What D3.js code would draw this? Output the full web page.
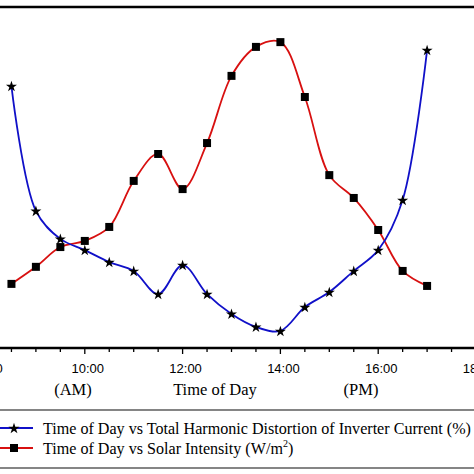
<!DOCTYPE html>
<html><head><meta charset="utf-8">
<script src="https://cdn.jsdelivr.net/npm/d3@7"></script>
<style>body{margin:0;background:#fff}svg{display:block}</style>
</head><body>
<script>
// Time of day in hours (every 30 minutes, 8:30 to 17:00)
const times = [8.5,9,9.5,10,10.5,11,11.5,12,12.5,13,13.5,14,14.5,15,15.5,16,16.5,17];
// Total harmonic distortion of inverter current (%)
const thd = [7.68,4.02,3.20,2.87,2.52,2.26,1.58,2.43,1.58,1.00,0.62,0.50,1.20,1.64,2.26,2.87,4.34,8.74];
// Solar intensity (W/m^2)
const solar = [188,238,296,314,355,490,569,466,601,798,883,897,736,507,440,346,226,182];
const majorTicks = [8,10,12,14,16,18];
const tickLabels = ["8:00","10:00","12:00","14:00","16:00","18:00"];
const minorTicks = d3.range(8,18.01,0.5);
const seriesNames = ["Time of Day vs Total Harmonic Distortion of Inverter Current (%)","Time of Day vs Solar Intensity (W/m"];

const W=474,H=474;
const svg=d3.select("body").append("svg").attr("width",W).attr("height",H);
const x=d3.scaleLinear().domain([8,18]).range([-13,476]);
const yT=d3.scaleLinear().domain([0,10]).range([348,7]);
const yS=d3.scaleLinear().domain([0,1000]).range([348,7]);

// frame
svg.append("rect").attr("x",-20).attr("y",7).attr("width",520).attr("height",341)
  .attr("fill","none").attr("stroke","#000").attr("stroke-width",2.5);

// x axis
const ax=svg.append("g").attr("transform","translate(0,348)");
ax.selectAll("line.minor").data(minorTicks).join("line")
  .attr("x1",d=>x(d)).attr("x2",d=>x(d)).attr("y1",0).attr("y2",d=>(Math.abs(d%2)<1e-6)?6:4)
  .attr("stroke","#000").attr("stroke-width",1.3);
ax.selectAll("text").data(majorTicks).join("text")
  .attr("x",d=>x(d)+3).attr("y",25).attr("text-anchor","middle")
  .attr("font-family","Liberation Sans, Arial, sans-serif").attr("font-size",13)
  .text((d,i)=>tickLabels[i]);

const serif="Liberation Serif, Times New Roman, serif";
svg.append("text").attr("x",73).attr("y",395).attr("text-anchor","middle").attr("font-family",serif).attr("font-size",16.5).text("(AM)");
svg.append("text").attr("x",215).attr("y",395).attr("text-anchor","middle").attr("font-family",serif).attr("font-size",16.5).text("Time of Day");
svg.append("text").attr("x",361).attr("y",395).attr("text-anchor","middle").attr("font-family",serif).attr("font-size",16.5).text("(PM)");

const curve=d3.curveCatmullRom.alpha(0.5);
const lineT=d3.line().x((d,i)=>x(times[i])).y(d=>yT(d)).curve(curve);
const lineS=d3.line().x((d,i)=>x(times[i])).y(d=>yS(d)).curve(curve);
const blue="#1010c8", red="#d81010";
svg.append("path").attr("d",lineS(solar)).attr("fill","none").attr("stroke",red).attr("stroke-width",1.8);
svg.append("path").attr("d",lineT(thd)).attr("fill","none").attr("stroke",blue).attr("stroke-width",1.8);

const star=d3.symbol().type(d3.symbolStar).size(38);
const sq=d3.symbol().type(d3.symbolSquare).size(64);
svg.selectAll("path.sq").data(solar).join("path").attr("class","sq")
  .attr("transform",(d,i)=>`translate(${x(times[i])},${yS(d)})`).attr("d",sq()).attr("fill","#000");
svg.selectAll("path.st").data(thd).join("path").attr("class","st")
  .attr("transform",(d,i)=>`translate(${x(times[i])},${yT(d)+0.5})`).attr("d",star()).attr("fill","#000");

// legend
svg.append("rect").attr("x",-5).attr("y",410).attr("width",485).attr("height",58)
  .attr("fill","none").attr("stroke","#444").attr("stroke-width",1.3);
const lg=svg.append("g");
lg.append("line").attr("x1",0).attr("x2",33).attr("y1",428).attr("y2",428).attr("stroke",blue).attr("stroke-width",1.8);
lg.append("path").attr("transform","translate(14,428.5)").attr("d",star()).attr("fill","#000");
lg.append("line").attr("x1",0).attr("x2",33).attr("y1",448).attr("y2",448).attr("stroke",red).attr("stroke-width",1.8);
lg.append("path").attr("transform","translate(14,448)").attr("d",sq()).attr("fill","#000");
lg.append("text").attr("x",43).attr("y",434).attr("font-family",serif).attr("font-size",16.1).text(seriesNames[0]);
const t2=lg.append("text").attr("x",43).attr("y",454).attr("font-family",serif).attr("font-size",16.1).text(seriesNames[1]);
t2.append("tspan").attr("font-size",10).attr("dy",-7).text("2");
t2.append("tspan").attr("dy",7).text(")");
</script>
</body></html>
